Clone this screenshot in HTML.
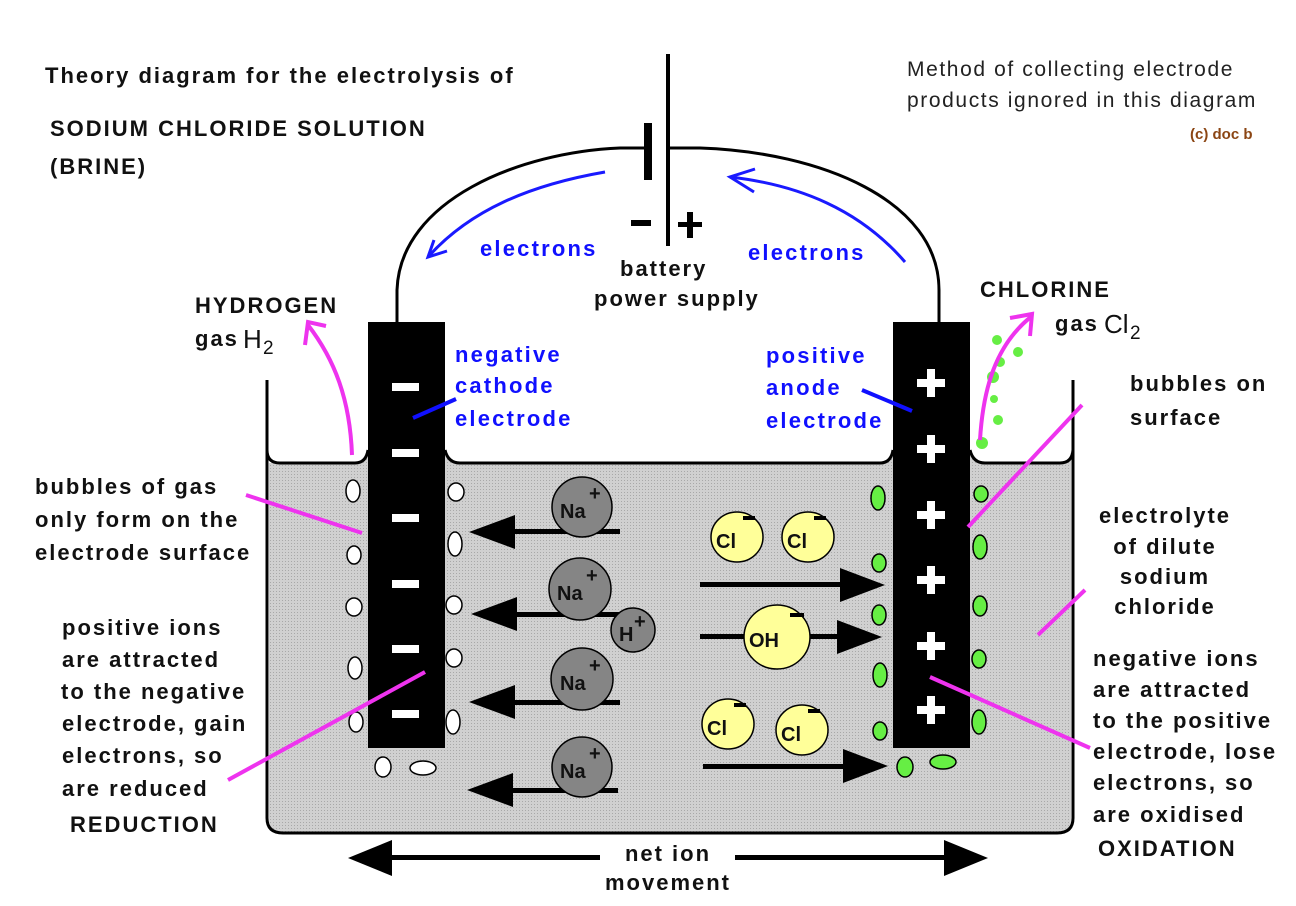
<!DOCTYPE html>
<html><head><meta charset="utf-8"><style>
html,body{margin:0;padding:0;background:#fff;}
svg{display:block;}
text{font-family:"Liberation Sans",Arial,sans-serif;}
.b{font-weight:bold;font-size:22px;letter-spacing:2px;fill:#111;}
.bl{font-weight:bold;font-size:22px;letter-spacing:2.2px;fill:#1010ff;}
.ion{font-weight:bold;font-size:20px;fill:#111;}
</style></head><body>
<svg width="1296" height="906" viewBox="0 0 1296 906" xmlns="http://www.w3.org/2000/svg">
<defs>
<pattern id="dot" width="3" height="3" patternUnits="userSpaceOnUse">
<rect width="3" height="3" fill="#d0d0d0"/><rect width="1" height="1" fill="#a8a8a8"/>
</pattern>
</defs>
<path d="M269 463 L355 463 Q366 463 368 450 L368 463 L445 463 L445 450 Q448 463 460 463 L880 463 Q891 463 893 450 L893 463 L970 463 L970 450 Q973 463 985 463 L1060 463 Q1071 463 1071 450 L1071 818 Q1071 832 1057 832 L283 832 Q269 832 269 818 Z" fill="url(#dot)"/>
<path d="M267 380 L267 450 Q267 463 280 463 L355 463 Q366 463 368 450" fill="none" stroke="#000" stroke-width="3"/>
<path d="M445 450 Q448 463 460 463 L880 463 Q891 463 893 450" fill="none" stroke="#000" stroke-width="3"/>
<path d="M970 450 Q973 463 985 463 L1060 463 Q1072 463 1073 450" fill="none" stroke="#000" stroke-width="3"/>
<path d="M267 440 L267 818 Q267 833 283 833 L1057 833 Q1073 833 1073 818 L1073 380" fill="none" stroke="#000" stroke-width="3"/>
<path d="M397 322 L397 290 C 400 200 520 152 620 148 L646 148" fill="none" stroke="#000" stroke-width="3"/>
<path d="M668 148 L700 148 C 820 152 939 200 939 290 L939 322" fill="none" stroke="#000" stroke-width="3"/>
<rect x="644" y="123" width="8" height="57" fill="#000"/>
<rect x="666" y="54" width="4" height="192" fill="#000"/>
<rect x="631" y="220" width="20" height="6" fill="#000"/>
<rect x="678" y="222" width="24" height="5" fill="#000"/><rect x="687" y="212" width="6" height="26" fill="#000"/>
<path d="M605 172 C 530 185 470 210 428 257" fill="none" stroke="#1a1aff" stroke-width="3"/>
<path d="M434 240 L428 257 L447 251" fill="none" stroke="#1a1aff" stroke-width="3"/>
<path d="M905 262 C 860 210 800 185 730 177" fill="none" stroke="#1a1aff" stroke-width="3"/>
<path d="M755 169 L730 177 L754 192" fill="none" stroke="#1a1aff" stroke-width="3"/>
<text class="bl" x="480" y="256">electrons</text>
<text class="bl" x="748" y="260">electrons</text>
<text class="b" x="620" y="276">battery</text>
<text class="b" x="594" y="306">power supply</text>
<rect x="368" y="322" width="77" height="426" fill="#000"/>
<rect x="893" y="322" width="77" height="426" fill="#000"/>
<g fill="#fff">
<rect x="392" y="383" width="27" height="8"/><rect x="392" y="449" width="27" height="8"/><rect x="392" y="514" width="27" height="8"/><rect x="392" y="580" width="27" height="8"/><rect x="392" y="645" width="27" height="8"/><rect x="392" y="710" width="27" height="8"/>
</g>
<g fill="#fff">
<g transform="translate(931,383)"><rect x="-14" y="-4" width="28" height="8"/><rect x="-4" y="-14" width="8" height="28"/></g>
<g transform="translate(931,449)"><rect x="-14" y="-4" width="28" height="8"/><rect x="-4" y="-14" width="8" height="28"/></g>
<g transform="translate(931,515)"><rect x="-14" y="-4" width="28" height="8"/><rect x="-4" y="-14" width="8" height="28"/></g>
<g transform="translate(931,580)"><rect x="-14" y="-4" width="28" height="8"/><rect x="-4" y="-14" width="8" height="28"/></g>
<g transform="translate(931,646)"><rect x="-14" y="-4" width="28" height="8"/><rect x="-4" y="-14" width="8" height="28"/></g>
<g transform="translate(931,710)"><rect x="-14" y="-4" width="28" height="8"/><rect x="-4" y="-14" width="8" height="28"/></g>
</g>
<line x1="413" y1="418" x2="456" y2="399" stroke="#1010ff" stroke-width="4"/>
<line x1="862" y1="390" x2="912" y2="411" stroke="#1010ff" stroke-width="4"/>
<text class="bl" x="455" y="362">negative</text>
<text class="bl" x="455" y="393">cathode</text>
<text class="bl" x="455" y="426">electrode</text>
<text class="bl" x="766" y="363">positive</text>
<text class="bl" x="766" y="395">anode</text>
<text class="bl" x="766" y="428">electrode</text>
<g fill="#fff" stroke="#000" stroke-width="1.5">
<ellipse cx="353" cy="491" rx="7" ry="11"/><ellipse cx="354" cy="555" rx="7" ry="9"/><ellipse cx="354" cy="607" rx="8" ry="9"/><ellipse cx="355" cy="668" rx="7" ry="11"/><ellipse cx="356" cy="722" rx="7" ry="10"/>
<ellipse cx="456" cy="492" rx="8" ry="9"/><ellipse cx="455" cy="544" rx="7" ry="12"/><ellipse cx="454" cy="605" rx="8" ry="9"/><ellipse cx="454" cy="658" rx="8" ry="9"/><ellipse cx="453" cy="722" rx="7" ry="12"/>
<ellipse cx="383" cy="767" rx="8" ry="10"/><ellipse cx="423" cy="768" rx="13" ry="7"/>
</g>
<g fill="#66ee44" stroke="#000" stroke-width="1.5">
<ellipse cx="878" cy="498" rx="7" ry="12"/><ellipse cx="879" cy="563" rx="7" ry="9"/><ellipse cx="879" cy="615" rx="7" ry="10"/><ellipse cx="880" cy="675" rx="7" ry="12"/><ellipse cx="880" cy="731" rx="7" ry="9"/>
<ellipse cx="981" cy="494" rx="7" ry="8"/><ellipse cx="980" cy="547" rx="7" ry="12"/><ellipse cx="980" cy="606" rx="7" ry="10"/><ellipse cx="979" cy="659" rx="7" ry="9"/><ellipse cx="979" cy="722" rx="7" ry="12"/>
<ellipse cx="905" cy="767" rx="8" ry="10"/><ellipse cx="943" cy="762" rx="13" ry="7"/>
</g>
<g fill="#66ee44">
<circle cx="982" cy="443" r="6"/><circle cx="998" cy="420" r="5"/><circle cx="993" cy="377" r="6"/><circle cx="1000" cy="362" r="5"/><circle cx="1018" cy="352" r="5"/><circle cx="997" cy="340" r="5"/><circle cx="994" cy="399" r="4"/>
</g>
<g fill="none" stroke="#ee33ee" stroke-width="4">
<path d="M352 455 C 350 400 335 360 308 325"/>
<path d="M305 345 L308 322 L326 326"/>
<path d="M980 440 C 983 390 995 345 1032 316"/>
<path d="M1010 318 L1032 314 L1030 336"/>
<line x1="246" y1="495" x2="362" y2="533"/>
<line x1="228" y1="780" x2="425" y2="672"/>
<line x1="968" y1="527" x2="1082" y2="405"/>
<line x1="1038" y1="635" x2="1085" y2="590"/>
<line x1="930" y1="677" x2="1090" y2="748"/>
</g>
<g fill="#000">
<rect x="500" y="529" width="120" height="5"/><path d="M469 532 L515 515 L515 549 Z"/>
<rect x="500" y="612" width="140" height="5"/><path d="M471 614 L517 597 L517 631 Z"/>
<rect x="500" y="700" width="120" height="5"/><path d="M469 702 L515 685 L515 719 Z"/>
<rect x="500" y="788" width="118" height="5"/><path d="M467 790 L513 773 L513 807 Z"/>
<rect x="700" y="582" width="160" height="5"/><path d="M885 585 L840 568 L840 602 Z"/>
<rect x="700" y="634" width="160" height="5"/><path d="M882 637 L837 620 L837 654 Z"/>
<rect x="703" y="764" width="160" height="5"/><path d="M888 766 L843 749 L843 783 Z"/>
</g>
<g stroke="#000" stroke-width="1.5">
<circle cx="582" cy="507" r="30" fill="#858585"/>
<circle cx="580" cy="589" r="31" fill="#858585"/>
<circle cx="633" cy="630" r="22" fill="#858585"/>
<circle cx="582" cy="679" r="31" fill="#858585"/>
<circle cx="582" cy="767" r="30" fill="#858585"/>
<ellipse cx="737" cy="537" rx="26" ry="25" fill="#ffff99"/>
<ellipse cx="808" cy="537" rx="26" ry="25" fill="#ffff99"/>
<ellipse cx="777" cy="637" rx="33" ry="32" fill="#ffff99"/>
<ellipse cx="728" cy="724" rx="26" ry="25" fill="#ffff99"/>
<ellipse cx="802" cy="730" rx="26" ry="25" fill="#ffff99"/>
</g>
<g class="ion">
<text class="ion" x="560" y="518">Na</text><text class="ion" x="589" y="500" font-size="16">+</text>
<text class="ion" x="557" y="600">Na</text><text class="ion" x="586" y="582" font-size="16">+</text>
<text class="ion" x="619" y="641">H</text><text class="ion" x="634" y="628" font-size="16">+</text>
<text class="ion" x="560" y="690">Na</text><text class="ion" x="589" y="672" font-size="16">+</text>
<text class="ion" x="560" y="778">Na</text><text class="ion" x="589" y="760" font-size="16">+</text>
<text class="ion" x="716" y="548">Cl</text><rect x="743" y="516" width="12" height="4" fill="#000"/>
<text class="ion" x="787" y="548">Cl</text><rect x="814" y="516" width="12" height="4" fill="#000"/>
<text class="ion" x="749" y="647">OH</text><rect x="790" y="613" width="14" height="4" fill="#000"/>
<text class="ion" x="707" y="735">Cl</text><rect x="734" y="703" width="12" height="4" fill="#000"/>
<text class="ion" x="781" y="741">Cl</text><rect x="808" y="709" width="12" height="4" fill="#000"/>
</g>
<rect x="385" y="855" width="565" height="5" fill="#000"/>
<path d="M348 858 L392 840 L392 876 Z" fill="#000"/>
<path d="M988 858 L944 840 L944 876 Z" fill="#000"/>
<rect x="600" y="838" width="135" height="55" fill="#fff"/>
<text class="b" x="668" y="861" text-anchor="middle">net ion</text>
<text class="b" x="668" y="890" text-anchor="middle">movement</text>
<text class="b" x="45" y="83" letter-spacing="2">Theory diagram for the electrolysis of</text>
<text class="b" x="50" y="136" letter-spacing="1.2">SODIUM CHLORIDE SOLUTION</text>
<text class="b" x="50" y="174" letter-spacing="1.2">(BRINE)</text>
<text x="907" y="76" font-size="21" letter-spacing="1.6" fill="#222">Method of collecting electrode</text>
<text x="907" y="107" font-size="21" letter-spacing="1.6" fill="#222">products ignored in this diagram</text>
<text x="1190" y="139" font-size="15" font-weight="bold" fill="#8b4513">(c) doc b</text>
<text class="b" x="195" y="313" letter-spacing="1.2">HYDROGEN</text>
<text class="b" x="195" y="346">gas</text><text x="243" y="348" font-size="26" fill="#111">H</text><text x="263" y="354" font-size="19" fill="#111">2</text>
<text class="b" x="980" y="297" letter-spacing="1.2">CHLORINE</text>
<text class="b" x="1055" y="331">gas</text><text x="1104" y="333" font-size="26" fill="#111">Cl</text><text x="1130" y="339" font-size="19" fill="#111">2</text>
<text class="b" x="35" y="494">bubbles of gas</text>
<text class="b" x="35" y="527">only form on the</text>
<text class="b" x="35" y="560">electrode surface</text>
<text class="b" x="62" y="635">positive ions</text>
<text class="b" x="62" y="667">are attracted</text>
<text class="b" x="61" y="699">to the negative</text>
<text class="b" x="62" y="731">electrode, gain</text>
<text class="b" x="62" y="763">electrons, so</text>
<text class="b" x="62" y="796">are reduced</text>
<text class="b" x="70" y="832" letter-spacing="1">REDUCTION</text>
<text class="b" x="1130" y="391">bubbles on</text>
<text class="b" x="1130" y="425">surface</text>
<text class="b" x="1165" y="523" text-anchor="middle">electrolyte</text>
<text class="b" x="1165" y="554" text-anchor="middle">of dilute</text>
<text class="b" x="1165" y="584" text-anchor="middle">sodium</text>
<text class="b" x="1165" y="614" text-anchor="middle">chloride</text>
<text class="b" x="1093" y="666">negative ions</text>
<text class="b" x="1093" y="697">are attracted</text>
<text class="b" x="1093" y="728">to the positive</text>
<text class="b" x="1093" y="759">electrode, lose</text>
<text class="b" x="1093" y="790">electrons, so</text>
<text class="b" x="1093" y="822">are oxidised</text>
<text class="b" x="1098" y="856" letter-spacing="1">OXIDATION</text>
</svg>
</body></html>
